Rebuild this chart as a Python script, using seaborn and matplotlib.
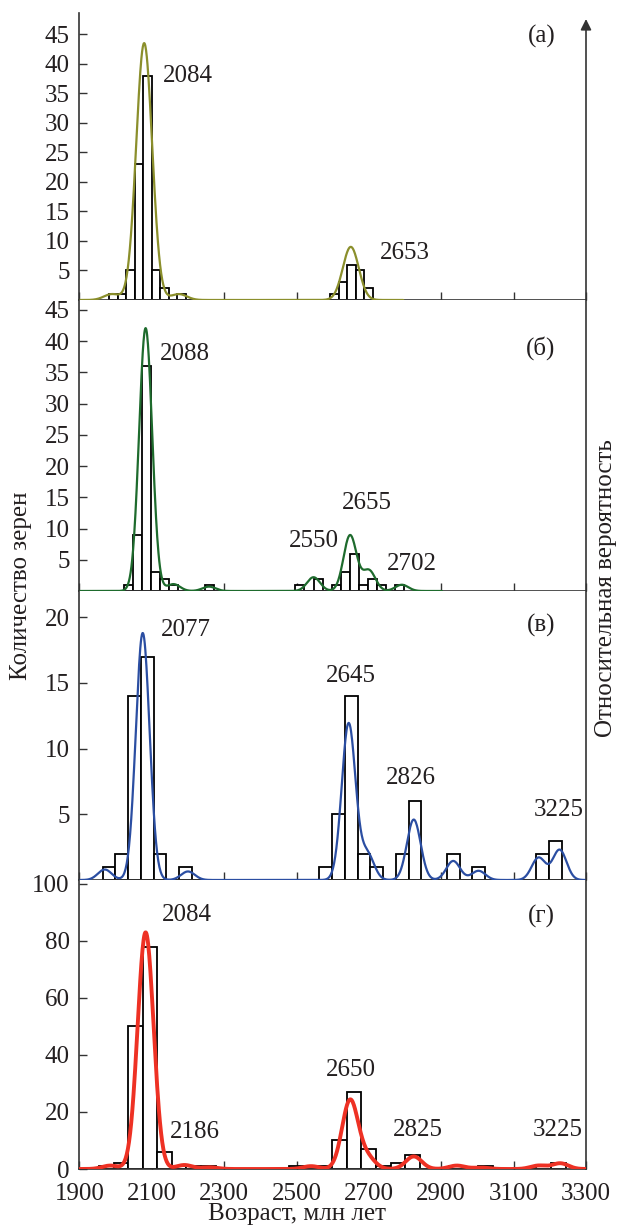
import numpy as np
import pandas as pd
import matplotlib
matplotlib.use("Agg")
import matplotlib.pyplot as plt
import seaborn as sns

# ---- histogram data: first bin edge (Ma), bin width (Ma), grains per bin ----
a_start, a_width = 1982, 23.5
a_counts = [1, 1, 5, 23, 38, 5, 2, 0, 1,
            0, 0, 0, 0, 0, 0, 0, 0, 0, 0, 0, 0, 0, 0, 0, 0, 0,
            1, 3, 6, 5, 2]

b_start, b_width = 2022, 25
b_counts = [1, 9, 36, 3, 2, 1, 0, 0, 0, 1,
            0, 0, 0, 0, 0, 0, 0, 0, 0,
            1, 0, 2, 0, 1, 3, 6, 1, 2, 1, 0, 1]

c_start, c_width = 1964, 35.25
c_counts = [1, 2, 14, 17, 2, 0, 1,
            0, 0, 0, 0, 0, 0, 0, 0, 0, 0,
            1, 5, 14, 2, 1, 0, 2, 6, 0, 0, 2, 0, 1,
            0, 0, 0, 0, 2, 3]

d_start, d_width = 1954, 40.3
d_counts = [1, 2, 50, 78, 6, 1, 1, 1,
            0, 0, 0, 0, 0,
            1, 1, 1, 10, 27, 7, 1, 2, 5, 0, 0, 1, 0, 1,
            0, 0, 0, 1, 2]

# ---- probability-density components (peak age, relative height) ----
a_ages = [1990, 2079, 2175, 2650]
a_weights = [1.0, 43.5, 1.0, 9.0]
b_ages = [2083, 2160, 2258, 2547, 2648, 2700, 2791]
b_weights = [42, 1.1, 0.7, 2.2, 8.9, 3.3, 1.0]
c_ages = [1970, 2075, 2200, 2644, 2695, 2824, 2933, 3003, 3169, 3227]
c_weights = [0.8, 18.8, 0.65, 11.9, 2.0, 4.6, 1.45, 0.7, 1.7, 2.3]
d_ages = [1985, 2083, 2190, 2260, 2540, 2648, 2695, 2824, 2943, 3010, 3169, 3229]
d_weights = [1.2, 83, 1.4, 0.6, 1.0, 24, 4.0, 4.4, 1.2, 0.5, 1.2, 2.0]

# curve maximum read on the count axis
a_peak, b_peak, c_peak, d_peak = 43.5, 42.1, 18.8, 83

# peak labels: text, age position, count position
a_labels = [("2084", 2131, 37.9), ("2653", 2731, 7.9)]
b_labels = [("2088", 2123, 37.9), ("2655", 2624, 14.1), ("2550", 2480, 8.0), ("2702", 2751, 4.3)]
c_labels = [("2077", 2126, 19.0), ("2645", 2582, 15.5), ("2826", 2748, 7.8), ("3225", 3155, 5.3)]
d_labels = [("2084", 2128, 89.2), ("2186", 2150, 13.1), ("2650", 2582, 34.8),
            ("2825", 2765, 13.8), ("3225", 3152, 13.8)]

x_ticks = [1900, 2100, 2300, 2500, 2700, 2900, 3100, 3300]

sns.set_style("white")
plt.rcParams["font.family"] = ["Liberation Serif", "DejaVu Serif"]
plt.rcParams["font.size"] = 18
TXT = "#231f20"
AXC = "#333333"

fig = plt.figure(figsize=(6.19, 12.26), dpi=100)
left, width = 79.4 / 619, (586 - 79.4) / 619
tops_px = [13, 300, 591, 880, 1169]

panels = [
    (a_start, a_width, a_counts, a_ages, a_weights, 22, "#8b8f2c", 1.6, 48.6,
     [5, 10, 15, 20, 25, 30, 35, 40, 45], (1900, 2795), a_peak, a_labels, "(а)", 44.7),
    (b_start, b_width, b_counts, b_ages, b_weights, 18, "#1e6b2d", 1.6, 46.6,
     [5, 10, 15, 20, 25, 30, 35, 40, 45], (1900, 2902), b_peak, b_labels, "(б)", 38.9),
    (c_start, c_width, c_counts, c_ages, c_weights, 19, "#2b4ea2", 1.6, 22.0,
     [5, 10, 15, 20], (1900, 3300), c_peak, c_labels, "(в)", 19.4),
    (d_start, d_width, d_counts, d_ages, d_weights, 22, "#ee3124", 2.8, 101.4,
     [0, 20, 40, 60, 80, 100], (1900, 3300), d_peak, d_labels, "(г)", 88.5),
]

for i, (start, bw_bin, counts, ages, weights, bw, color, lw, ytop, yticks,
        clip, peak, labels, tag, tag_y) in enumerate(panels):
    bottom = 1 - tops_px[i + 1] / 1226
    height = (tops_px[i + 1] - tops_px[i]) / 1226
    ax = fig.add_axes([left, bottom, width, height])

    edges = start + bw_bin * np.arange(len(counts) + 1)
    hist_df = pd.DataFrame({"age": edges[:-1] + bw_bin / 2, "n": counts})
    sns.histplot(data=hist_df, x="age", weights="n", bins=list(edges), ax=ax,
                 color="white", edgecolor="black", linewidth=1.3, alpha=1)

    ax.set_xlim(1900, 3300)
    ax.set_ylim(0, ytop)
    ax.set_yticks(yticks)
    ax.set_xticks(x_ticks)
    ax.set_ylabel("")
    ax.set_xlabel("")
    ax.tick_params(direction="in", length=6, width=1, color=AXC, labelcolor=TXT,
                   pad=7, left=True, bottom=True, right=False, top=False)
    ax.tick_params(axis="x", pad=10)
    if i < 3:
        ax.tick_params(labelbottom=False)
    for side in ["left", "bottom", "right"]:
        ax.spines[side].set_color(AXC)
        ax.spines[side].set_linewidth(1.2)
    ax.spines["top"].set_visible(False)
    if i == 0:
        ax.spines["right"].set_visible(False)
        ax.annotate("", xy=(1, 0.979), xytext=(1, 0), xycoords="axes fraction",
                    arrowprops=dict(arrowstyle="-|>", color=AXC, lw=1.2,
                                    mutation_scale=16, shrinkA=0, shrinkB=0))

    for text, xa, ya in labels:
        ax.text(xa, ya, text, ha="left", va="center", color=TXT)
    ax.text(3215, tag_y, tag, ha="right", va="center", color=TXT)

    # probability density on a hidden twin axis
    tw = ax.twinx()
    kde_df = pd.DataFrame({"age": ages, "w": weights})
    std = np.sqrt(np.cov(kde_df["age"], aweights=kde_df["w"]))
    sns.kdeplot(data=kde_df, x="age", weights="w", bw_method=bw / std, cut=25,
                clip=clip, gridsize=900, color=color, lw=lw, ax=tw)
    ymax = tw.lines[-1].get_ydata().max()
    tw.set_ylim(0, ymax * ytop / peak)
    tw.set_yticks([])
    tw.set_ylabel("")
    for s in tw.spines.values():
        s.set_visible(False)
    tw.set_xlim(1900, 3300)

fig.text(21 / 619, 1 - 586 / 1226, "Количество зерен", rotation=90,
         ha="center", va="center", color=TXT)
fig.text(606 / 619, 1 - 588 / 1226, "Относительная вероятность", rotation=90,
         ha="center", va="center", color=TXT)
fig.text(297 / 619, 1 - 1214 / 1226, "Возраст, млн лет", ha="center",
         va="center", color=TXT)

fig.savefig("out.png", dpi=100)
